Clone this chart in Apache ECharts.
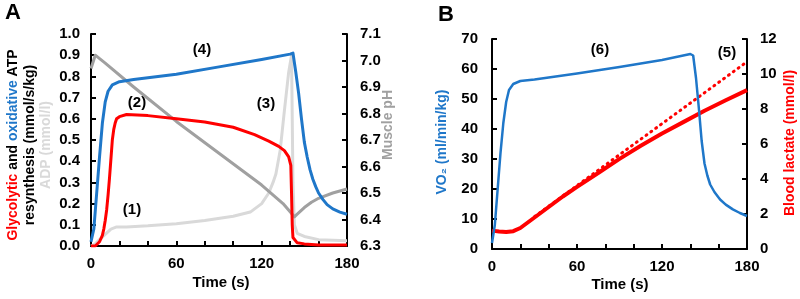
<!DOCTYPE html>
<html>
<head>
<meta charset="utf-8">
<script src="https://cdn.jsdelivr.net/npm/echarts@6/dist/echarts.min.js"></script>
<style>
  html, body { margin: 0; padding: 0; background: #fff; }
  #chart { width: 800px; height: 299px; }
</style>
</head>
<body>
<div id="chart"></div>
<script>
// panel A: ATP resynthesis rates (mmol/s/kg), ADP (mmol/l), muscle pH
var glyTime = [0, 3, 6, 8, 9, 10, 11, 12, 13, 14, 15, 16, 17, 18, 20, 25, 40, 60, 80, 100, 115, 125, 132, 136, 139, 140.5, 141, 141.5, 142, 145, 150, 160, 180];
var glyRate = [0, 0, 0.02, 0.05, 0.08, 0.12, 0.17, 0.24, 0.32, 0.41, 0.5, 0.55, 0.58, 0.6, 0.61, 0.62, 0.615, 0.6, 0.585, 0.56, 0.525, 0.495, 0.47, 0.45, 0.42, 0.38, 0.25, 0.1, 0.04, 0.015, 0.01, 0.005, 0.005];

var oxTime = [0, 2, 4, 6, 8, 10, 12, 15, 20, 30, 60, 90, 120, 140, 142, 144, 146, 148, 150, 152, 154, 156, 158, 160, 163, 166, 170, 175, 180];
var oxRate = [0.02, 0.08, 0.25, 0.42, 0.58, 0.68, 0.73, 0.76, 0.775, 0.785, 0.81, 0.845, 0.88, 0.905, 0.91, 0.82, 0.72, 0.6, 0.49, 0.42, 0.36, 0.315, 0.28, 0.25, 0.22, 0.195, 0.175, 0.16, 0.15];

var adpTime = [0, 3, 6, 10, 14, 18, 25, 40, 60, 80, 100, 112, 120, 125, 128, 130, 133, 136, 139, 141, 142, 143, 145, 150, 160, 170, 180];
var adpConc = [0, 0.01, 0.03, 0.055, 0.08, 0.09, 0.09, 0.095, 0.105, 0.12, 0.14, 0.16, 0.2, 0.25, 0.3, 0.34, 0.45, 0.64, 0.82, 0.9, 0.3, 0.1, 0.06, 0.045, 0.03, 0.027, 0.025];

var phTime = [0, 3, 10, 30, 60, 90, 120, 135, 143, 145, 150, 155, 160, 170, 180];
var phValue = [6.97, 7.02, 6.99, 6.9, 6.77, 6.65, 6.53, 6.46, 6.41, 6.42, 6.445, 6.465, 6.48, 6.5, 6.515];

// panel B: VO2 (ml/min/kg) and blood lactate (mmol/l)
var vo2Time = [0, 2, 4, 6, 8, 10, 12, 15, 20, 30, 60, 90, 120, 140, 142, 144, 146, 148, 150, 152, 154, 157, 161, 165, 170, 175, 180];
var vo2Value = [2, 8, 20, 32, 42, 49, 53, 55, 56, 56.5, 58.5, 60.7, 63, 65, 64.5, 57, 47, 36, 28.5, 24.5, 21.5, 19, 16.5, 14.8, 13.2, 12, 11];

var lacTime = [0, 5, 10, 15, 20, 25, 30, 40, 50, 60, 76, 90, 105, 120, 135, 150, 165, 180];
var lacValue = [1.05, 1.0, 0.97, 1.02, 1.2, 1.5, 1.8, 2.4, 3.0, 3.55, 4.4, 5.15, 5.9, 6.6, 7.25, 7.9, 8.5, 9.08];

var lacLinTime = [30, 180];
var lacLinValue = [1.85, 10.7];

var timeTicks = [0, 60, 120, 180];

function pairs(xs, ys) {
    return xs.map(function (x, i) { return [x, ys[i]]; });
}

var BLUE = '#1f77c9';
var RED = '#ff0000';
var LIGHT = '#d9d9d9';
var DARK = '#a0a0a0';
var FONT = '"Liberation Sans", Arial, sans-serif';

var chart = echarts.init(document.getElementById('chart'));

function timeAxis(grid) {
    return {
        type: 'value',
        gridIndex: grid,
        min: timeTicks[0],
        max: timeTicks[timeTicks.length - 1],
        interval: 60,
        axisLine: { lineStyle: { color: '#000', width: 2 } },
        axisTick: { show: true, inside: true, length: 5, lineStyle: { color: '#000', width: 2 } },
        minorTick: { show: true, splitNumber: 3, length: 5, lineStyle: { color: '#000', width: 2 } },
        axisLabel: { color: '#000', fontSize: 15, fontWeight: 'bold', fontFamily: FONT, margin: 10 },
        splitLine: { show: false }
    };
}

function valueAxis(grid, pos, min, max, step, digits, margin) {
    return {
        type: 'value',
        gridIndex: grid,
        position: pos,
        min: min,
        max: max,
        interval: step,
        axisLine: { show: true, lineStyle: { color: '#000', width: 2 } },
        axisTick: { show: true, inside: true, length: 5, lineStyle: { color: '#000', width: 2 } },
        axisLabel: {
            color: '#000', fontSize: 15, fontWeight: 'bold', fontFamily: FONT, margin: margin,
            formatter: function (v) { return v.toFixed(digits); }
        },
        splitLine: { show: false }
    };
}

function line(name, xi, yi, data, color, width, dashed) {
    return {
        name: name,
        type: 'line',
        xAxisIndex: xi,
        yAxisIndex: yi,
        data: data,
        showSymbol: false,
        symbol: 'none',
        smooth: false,
        lineStyle: dashed
            ? { color: color, width: width, type: [1, 5], cap: 'round' }
            : { color: color, width: width, join: 'round' },
        animation: false
    };
}

function txt(x, y, text, color, size, rot) {
    return {
        type: 'text',
        x: x,
        y: y,
        rotation: rot || 0,
        style: {
            text: text,
            fill: color,
            font: 'bold ' + size + 'px ' + FONT,
            textAlign: 'center',
            textVerticalAlign: 'middle'
        }
    };
}

var up = Math.PI / 2;

var option = {
    animation: false,
    grid: [
        { left: 91, top: 34, width: 256, height: 212 },
        { left: 492, top: 39, width: 255, height: 210 }
    ],
    xAxis: [timeAxis(0), timeAxis(1)],
    yAxis: [
        valueAxis(0, 'left', 0, 1, 0.1, 1, 11),
        valueAxis(0, 'right', 6.3, 7.1, 0.1, 1, 13),
        valueAxis(1, 'left', 0, 70, 10, 0, 14),
        valueAxis(1, 'right', 0, 12, 2, 0, 13)
    ],
    series: [
        line('ADP', 0, 0, pairs(adpTime, adpConc), LIGHT, 3),
        line('Muscle pH', 0, 1, pairs(phTime, phValue), DARK, 3),
        line('Glycolytic', 0, 0, pairs(glyTime, glyRate), RED, 3),
        line('Oxidative', 0, 0, pairs(oxTime, oxRate), BLUE, 3),
        line('Lactate trend', 1, 3, pairs(lacLinTime, lacLinValue), RED, 3, true),
        line('Blood lactate', 1, 3, pairs(lacTime, lacValue), RED, 4),
        line('VO2', 1, 2, pairs(vo2Time, vo2Value), BLUE, 2.5)
    ],
    graphic: [
        txt(13, 13, 'A', '#000', 22),
        txt(446, 15, 'B', '#000', 22),
        {
            type: 'text',
            x: 13,
            y: 145,
            rotation: up,
            style: {
                text: '{r|Glycolytic} and {b|oxidative} ATP',
                fill: '#000',
                font: 'bold 14px ' + FONT,
                textAlign: 'center',
                textVerticalAlign: 'middle',
                rich: {
                    r: { fill: RED, font: 'bold 14px ' + FONT },
                    b: { fill: BLUE, font: 'bold 14px ' + FONT }
                }
            }
        },
        txt(30, 145, 'resynthesis (mmol/s/kg)', '#000', 14, up),
        txt(46, 145, 'ADP (mmol/l)', LIGHT, 14, up),
        txt(388, 125, 'Muscle pH', DARK, 14, up),
        txt(442, 142, 'VO\u2082 (ml/min/kg)', BLUE, 14, up),
        txt(790, 143, 'Blood lactate (mmol/l)', RED, 14, up),
        txt(221, 283, 'Time (s)', '#000', 15),
        txt(620, 285, 'Time (s)', '#000', 15),
        txt(132, 210, '(1)', '#000', 15),
        txt(137, 103, '(2)', '#000', 15),
        txt(266, 104, '(3)', '#000', 15),
        txt(202, 50, '(4)', '#000', 15),
        txt(727, 53, '(5)', '#000', 15),
        txt(600, 50, '(6)', '#000', 15)
    ]
};

chart.setOption(option);
</script>
</body>
</html>
